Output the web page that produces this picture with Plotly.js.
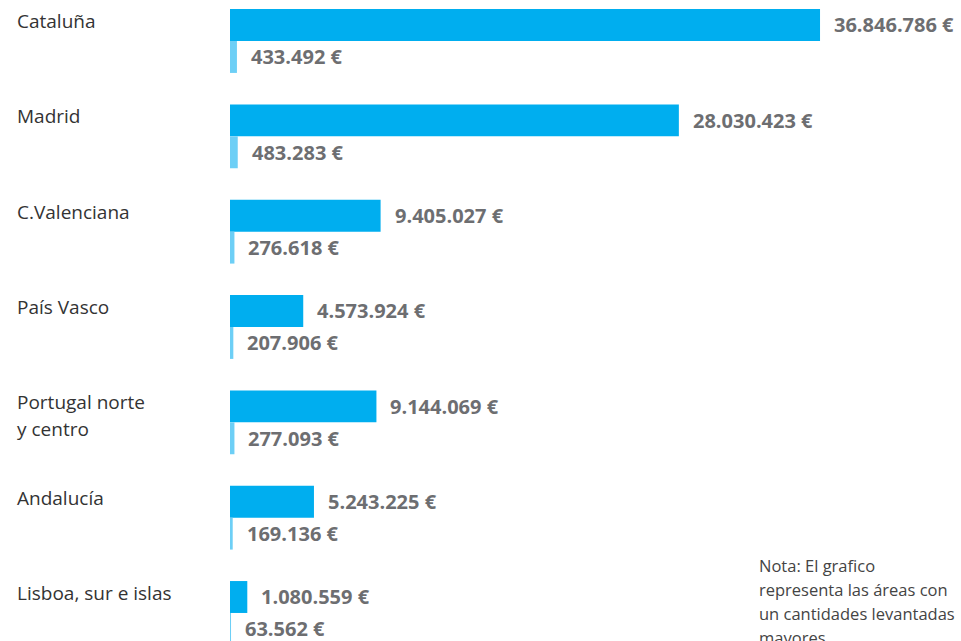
<!DOCTYPE html>
<html>
<head>
<meta charset="utf-8">
<script src="https://cdn.plot.ly/plotly-3.0.1.min.js"></script>
<style>html,body{margin:0;padding:0;background:#fff;}#chart{width:961px;height:641px;}</style>
</head>
<body>
<div id="chart"></div>
<script>
const categories = ["Cataluña", "Madrid", "C.Valenciana", "País Vasco", "Portugal norte<br>y centro", "Andalucía", "Lisboa, sur e islas"];
const totalValues = [36846786, 28030423, 9405027, 4573924, 9144069, 5243225, 1080559];
const secondValues = [433492, 483283, 276618, 207906, 277093, 169136, 63562];
const totalLabels = ["36.846.786 €", "28.030.423 €", "9.405.027 €", "4.573.924 €", "9.144.069 €", "5.243.225 €", "1.080.559 €"];
const secondLabels = ["433.492 €", "483.283 €", "276.618 €", "207.906 €", "277.093 €", "169.136 €", "63.562 €"];
const noteLines = ["Nota: El grafico", "representa las áreas con", "un cantidades levantadas", "mayores"];

const idx = categories.map((c, i) => i);
const FONT = "'Open Sans', 'Noto Sans', sans-serif";

const traces = [
  {type: "bar", orientation: "h", y: idx, x: totalValues, marker: {color: "#00AEEF"}, hoverinfo: "none"},
  {type: "bar", orientation: "h", y: idx, x: secondValues, marker: {color: "#6DCFF6"}, hoverinfo: "none"}
];

const annotations = [];
idx.forEach(i => {
  categories[i].split("<br>").forEach((line, k) => {
    annotations.push({x: 0, xref: "paper", y: i, yref: "y", text: line, showarrow: false,
      xanchor: "left", yanchor: "middle", xshift: -215, yshift: 20 - 27 * k, align: "left",
      font: {family: FONT, size: 19, color: "#333333"}});
  });
  annotations.push({x: totalValues[i], xref: "x", y: i, yref: "y", text: "<b>" + totalLabels[i] + "</b>", showarrow: false,
    xanchor: "left", yanchor: "middle", xshift: 12, yshift: 16,
    font: {family: FONT, size: 20, color: "#6D6E71"}});
  annotations.push({x: secondValues[i], xref: "x", y: i, yref: "y", text: "<b>" + secondLabels[i] + "</b>", showarrow: false,
    xanchor: "left", yanchor: "middle", xshift: 12, yshift: -16,
    font: {family: FONT, size: 20, color: "#6D6E71"}});
});
noteLines.forEach((line, k) => {
  annotations.push({x: 0, xref: "paper", y: 1, yref: "paper", text: line, showarrow: false,
    xanchor: "left", yanchor: "middle", xshift: 527, yshift: -565 - 24 * k, align: "left",
    font: {family: FONT, size: 16.5, color: "#444444"}});
});

const layout = {
  width: 961, height: 641,
  margin: {l: 230, r: 0, t: 0, b: 0},
  paper_bgcolor: "#ffffff", plot_bgcolor: "#ffffff",
  barmode: "group", bargap: 0.33, bargroupgap: 0,
  showlegend: false,
  xaxis: {range: [0, 45.65e6], showgrid: false, zeroline: false, showticklabels: false, showline: false, ticks: ""},
  yaxis: {type: "linear", range: [6.294, -0.430], showgrid: false, zeroline: false, showticklabels: false, showline: false, ticks: ""},
  annotations: annotations
};

Plotly.newPlot("chart", traces, layout, {staticPlot: true, displayModeBar: false});
</script>
</body>
</html>
